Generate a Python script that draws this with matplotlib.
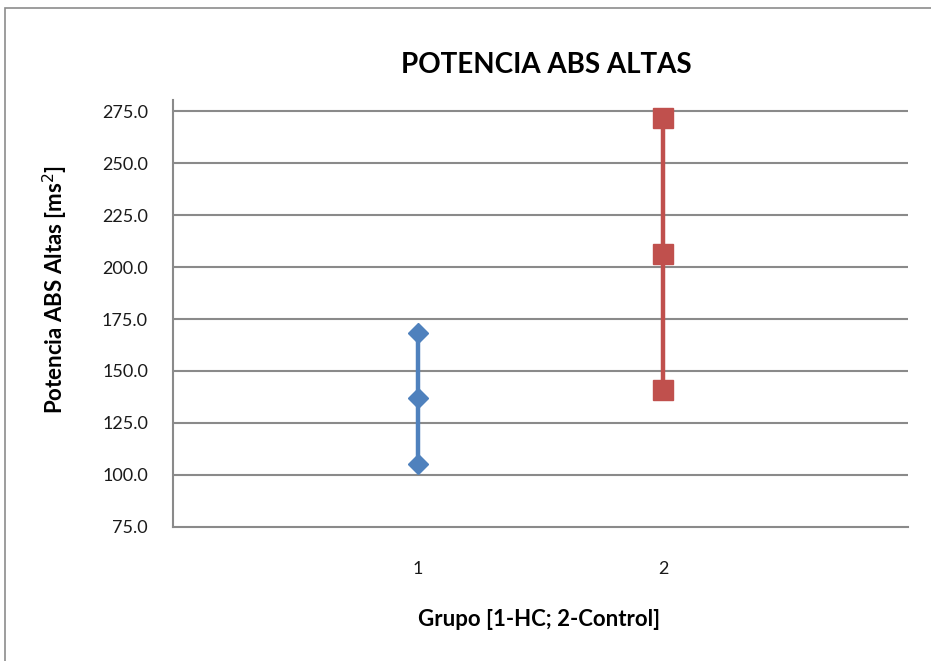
import matplotlib
matplotlib.use("Agg")
import matplotlib.pyplot as plt
from matplotlib.patches import Rectangle

# Data
grupos = [1, 2]
grupo_labels = ["1", "2"]
media = [136.9, 206.3]
inferior = [105.2, 140.9]
superior = [168.5, 271.8]
y_ticks = [75, 100, 125, 150, 175, 200, 225, 250, 275]

colores = ["#4F81BD", "#C0504D"]
marcadores = ["D", "s"]
tamanos = [10.5, 14]

plt.rcParams['font.family'] = ['Lato', 'DejaVu Sans']

W, H = 931, 661
fig = plt.figure(figsize=(W / 100, H / 100), dpi=100)
fig.patch.set_facecolor("white")

# outer chart border
fig.patches.append(Rectangle((5 / W, -0.05), 1.1, 1 - 8 / H + 0.05,
                             transform=fig.transFigure, fill=False,
                             edgecolor="#8c8c8c", linewidth=1.2))

left, right = 173 / W, 908 / W
bottom, top = 1 - 526.7 / H, 1 - 100 / H
ax = fig.add_axes([left, bottom, right - left, top - bottom])

for x, lo, m, hi, c, mk, ms in zip(grupos, inferior, media, superior,
                                    colores, marcadores, tamanos):
    ax.plot([x, x, x], [lo, m, hi], color=c, linewidth=3.2, marker=mk,
            markersize=ms, markerfacecolor=c, markeredgecolor=c, zorder=3)

ax.set_xlim(0, 3)
ax.set_ylim(75, 280.5)
ax.set_yticks(y_ticks)
ax.set_yticklabels([f"{v:.1f}" for v in y_ticks])
ax.set_xticks(grupos)
ax.set_xticklabels(grupo_labels)

for v in y_ticks[1:]:
    ax.axhline(v, color="#8a8a8a", linewidth=1.5, zorder=1)

for s in ["top", "right"]:
    ax.spines[s].set_visible(False)
for s in ["left", "bottom"]:
    ax.spines[s].set_color("#8a8a8a")
    ax.spines[s].set_linewidth(1.5)

ax.tick_params(axis="y", length=0, pad=18, labelsize=13, labelcolor="#1a1a1a")
ax.tick_params(axis="x", length=0, pad=25, labelsize=13, labelcolor="#1a1a1a")

fig.text(55 / W, 1 - 289 / H, "Potencia ABS Altas [ms$^2$]", rotation=90,
         ha="center", va="center", fontsize=16, fontweight="bold")
fig.text(539 / W, 1 - 620 / H, "Grupo [1-HC; 2-Control]", ha="center",
         va="center", fontsize=16, fontweight="bold")
fig.text(546 / W, 1 - 65 / H, "POTENCIA ABS ALTAS", ha="center", va="center",
         fontsize=20, fontweight="bold")

fig.savefig("out.png", dpi=100, facecolor="white")
